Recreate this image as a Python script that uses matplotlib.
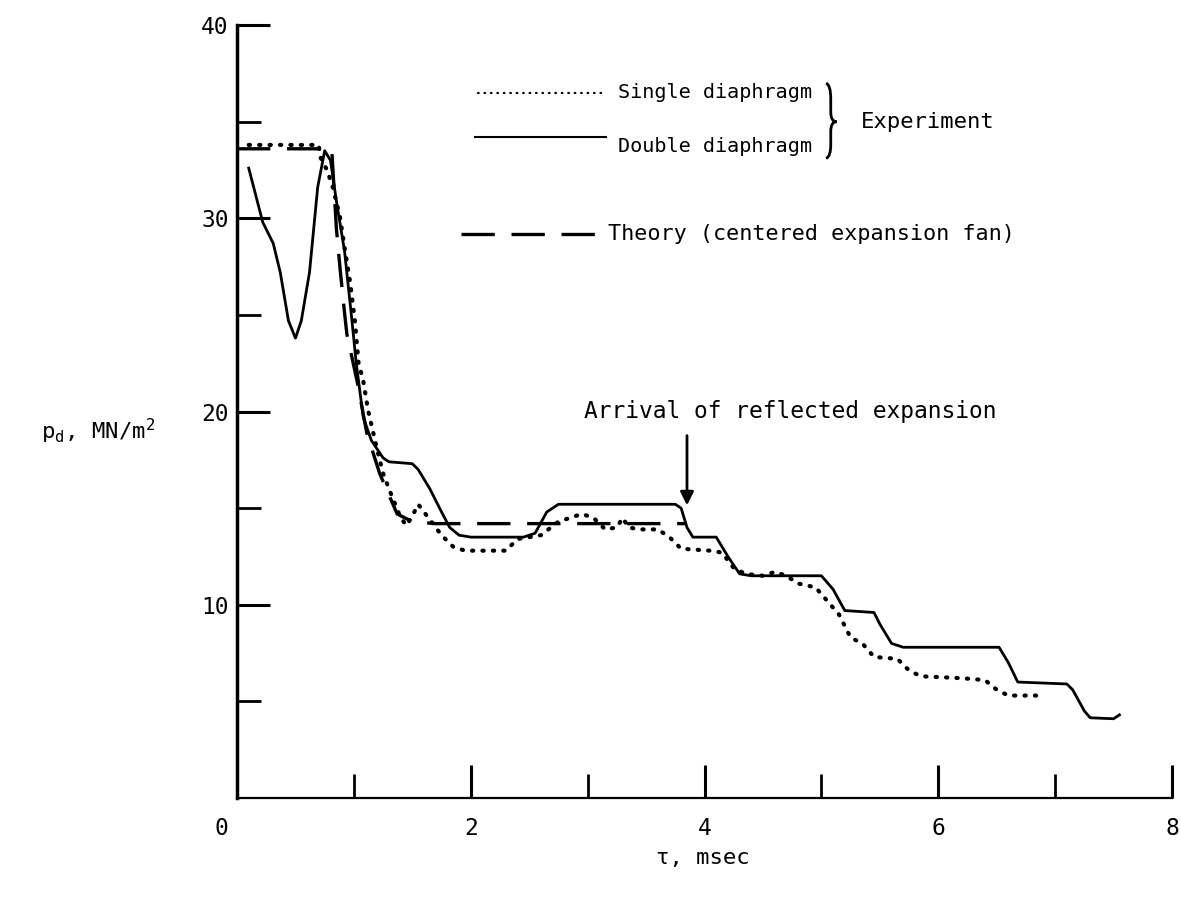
import matplotlib
matplotlib.use("Agg")
import matplotlib.pyplot as plt
from matplotlib.path import Path
from matplotlib.patches import PathPatch

# double diaphragm (solid)
dbl_t = [0.10, 0.22, 0.31, 0.37, 0.44, 0.50, 0.55, 0.62, 0.69, 0.75, 0.80, 0.85, 0.92, 0.98,
         1.02, 1.08, 1.15, 1.25, 1.30, 1.50, 1.55, 1.65, 1.75, 1.82, 1.90, 2.00, 2.45, 2.55,
         2.65, 2.75, 3.75, 3.80, 3.85, 3.90, 4.10, 4.20, 4.30, 4.40, 5.00, 5.10, 5.20, 5.45,
         5.50, 5.60, 5.70, 6.52, 6.60, 6.68, 7.10, 7.15, 7.25, 7.30, 7.50, 7.55]
dbl_p = [32.6, 29.8, 28.7, 27.2, 24.7, 23.8, 24.7, 27.2, 31.6, 33.5, 33.0, 30.9, 28.3, 24.9,
         22.5, 19.7, 18.5, 17.6, 17.4, 17.3, 17.0, 16.0, 14.8, 14.0, 13.6, 13.5, 13.5, 13.7,
         14.8, 15.2, 15.2, 15.0, 14.0, 13.5, 13.5, 12.5, 11.6, 11.5, 11.5, 10.8, 9.7, 9.6,
         9.0, 8.0, 7.8, 7.8, 7.0, 6.0, 5.9, 5.6, 4.5, 4.15, 4.1, 4.3]

# single diaphragm (dotted)
sgl_t = [0.10, 0.70, 0.71, 0.77, 0.82, 0.88, 0.92, 0.97, 1.01, 1.04, 1.08, 1.12, 1.20, 1.25,
         1.30, 1.40, 1.45, 1.50, 1.55, 1.60, 1.70, 1.75, 1.85, 1.95, 2.30, 2.40, 2.60, 2.75,
         2.95, 3.05, 3.15, 3.25, 3.30, 3.35, 3.45, 3.60, 3.70, 3.80, 4.05, 4.15, 4.25, 4.35,
         4.50, 4.60, 4.70, 4.80, 4.95, 5.05, 5.15, 5.25, 5.35, 5.45, 5.65, 5.75, 5.85, 6.20,
         6.40, 6.50, 6.60, 6.84]
sgl_p = [33.8, 33.8, 33.2, 32.5, 31.6, 30.1, 28.5, 26.6, 24.6, 22.5, 21.6, 20.1, 18.0, 16.8,
         16.0, 14.5, 14.1, 14.6, 15.2, 14.8, 14.0, 13.6, 13.0, 12.8, 12.8, 13.4, 13.6, 14.3,
         14.7, 14.5, 13.9, 14.0, 14.5, 14.0, 13.9, 13.9, 13.5, 12.9, 12.8, 12.7, 11.9, 11.6,
         11.5, 11.7, 11.5, 11.1, 10.9, 10.2, 9.5, 8.3, 8.0, 7.3, 7.2, 6.6, 6.3, 6.2,
         6.1, 5.6, 5.3, 5.3]

# theory (dashed)
thy_t = [0.0, 0.81, 0.85, 0.88, 0.92, 0.94, 1.03, 1.11, 1.22, 1.37, 1.50, 1.70, 3.85]
thy_p = [33.6, 33.6, 29.5, 27.5, 25.1, 24.0, 21.5, 18.9, 16.8, 14.7, 14.3, 14.2, 14.2]

plt.rcParams["font.family"] = "DejaVu Sans Mono"
plt.rcParams["font.size"] = 16

fig = plt.figure(figsize=(11.81, 8.98), dpi=100)
ax = fig.add_axes([0.2007, 0.1114, 0.7917, 0.8606])

ax.plot(dbl_t, dbl_p, color="black", lw=2)
ax.plot(sgl_t, sgl_p, color="black", lw=3, linestyle=(0, (0.3, 2.2)), dash_capstyle="round")
ax.plot(thy_t, thy_p, color="black", lw=2.4, dashes=(10, 5))

ax.set_xlim(0, 8)
ax.set_ylim(0, 40)
for s in ["top", "right"]:
    ax.spines[s].set_visible(False)
ax.spines["left"].set_linewidth(2.5)
ax.spines["bottom"].set_linewidth(1.6)

ax.set_xticks([2, 4, 6, 8])
ax.set_xticks([1, 3, 5, 7], minor=True)
ax.set_yticks([10, 20, 30, 40])
ax.set_yticks([5, 15, 25, 35], minor=True)
ax.tick_params(which="major", direction="in", length=24, width=2.2, pad=14, labelsize=16.5)
ax.tick_params(which="minor", direction="in", length=17, width=2)
ax.tick_params(axis="y", which="major", pad=6)
ax.text(-0.13, -1.0, "0", ha="center", va="top", fontsize=16.5)

# legend drawn by hand
ax.plot([2.06, 3.16], [36.5, 36.5], color="black", lw=1.6, linestyle=(0, (0.3, 2.6)), dash_capstyle="round")
ax.text(3.26, 36.5, "Single diaphragm", va="center", fontsize=14.5)
ax.plot([2.04, 3.16], [34.2, 34.2], color="black", lw=1.5)
ax.text(3.26, 33.7, "Double diaphragm", va="center", fontsize=14.5)
ax.plot([1.92, 3.16], [29.2, 29.2], color="black", lw=2.4, dashes=(10, 5))
ax.text(3.17, 29.2, "Theory (centered expansion fan)", va="center", fontsize=15.7)

# brace joining the two experiment entries
brace = Path([(5.04, 37.0), (5.08, 36.9), (5.08, 36.2),
              (5.08, 35.5),
              (5.08, 35.0), (5.13, 35.0),
              (5.08, 35.0), (5.08, 34.5),
              (5.08, 33.8),
              (5.08, 33.2), (5.04, 33.1)],
             [Path.MOVETO, Path.CURVE3, Path.CURVE3,
              Path.LINETO,
              Path.CURVE3, Path.CURVE3,
              Path.CURVE3, Path.CURVE3,
              Path.LINETO,
              Path.CURVE3, Path.CURVE3])
ax.add_patch(PathPatch(brace, facecolor="none", edgecolor="black", lw=2))
ax.text(5.34, 35.0, "Experiment", va="center", fontsize=16)

ax.annotate("", xy=(3.85, 15.0), xytext=(3.85, 18.9),
            arrowprops=dict(arrowstyle="-|>", color="black", lw=2, mutation_scale=20))
ax.text(2.97, 19.4, "Arrival of reflected expansion", va="bottom", fontsize=16.5)

fig.text(0.035, 0.52, r"p$_\mathregular{d}$, MN/m$^\mathregular{2}$", fontsize=16, va="center")
fig.text(0.595, 0.045, "τ, msec", fontsize=16, ha="center", va="center")

fig.savefig("out.png", dpi=100)
